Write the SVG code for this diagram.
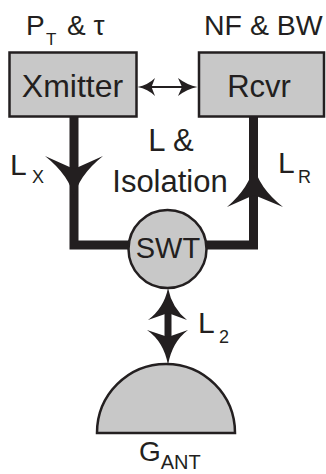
<svg xmlns="http://www.w3.org/2000/svg" width="326" height="474" viewBox="0 0 326 474">
<style>
.box{fill:#c8c8c8;stroke:#231f20;stroke-width:2.5}
.t{font-family:"Liberation Sans",Arial,sans-serif;fill:#231f20}
.wire{fill:none;stroke:#231f20;stroke-width:9;stroke-linejoin:miter}
.head{fill:#231f20;stroke:none}
</style>
<rect width="326" height="474" fill="#fff"/>
<g id="connectors">
  <path class="wire" d="M74,117 V245 H129"/>
  <path class="wire" d="M253.5,117 V245 H206"/>
  <path class="head" d="M74,198 Q78,176 103,156 L74,169 L45,156 Q70,176 74,198 Z"/>
  <path class="head" d="M254,165 Q258,187 283,207 L254,195 L227,207 Q250,187 254,165 Z"/>
  <line x1="150" y1="87" x2="184" y2="87" stroke="#231f20" stroke-width="2.2"/>
  <path class="head" d="M137.5,87 Q148,85 155,78 L151.5,87 L155,96 Q148,89 137.5,87 Z"/>
  <path class="head" d="M197.5,87 Q187,85 178,78 L182,87 L178,96 Q187,89 197.5,87 Z"/>
  <line x1="168" y1="310" x2="168" y2="340" stroke="#231f20" stroke-width="7"/>
  <path class="head" d="M168,288 Q172,308 187,320 L168,313 L148,320 Q164,308 168,288 Z"/>
  <path class="head" d="M168,365 Q172,342 188,330 L168,337 L147,330 Q164,342 168,365 Z"/>
</g>
<g id="xmitter">
  <rect class="box" x="9.5" y="52.5" width="127" height="64"/>
  <text class="t" x="72.5" y="97" font-size="32" text-anchor="middle">Xmitter</text>
  <text class="t" x="26" y="35" font-size="28">P<tspan font-size="17" x="46" y="45">T</tspan><tspan x="67" y="35">&amp; τ</tspan></text>
</g>
<g id="rcvr">
  <rect class="box" x="199" y="52.5" width="125" height="64"/>
  <text class="t" x="259" y="97" font-size="31" text-anchor="middle">Rcvr</text>
  <text class="t" x="204" y="35" font-size="28.5">NF &amp; BW</text>
</g>
<g id="swt">
  <circle class="box" cx="167.5" cy="249" r="39"/>
  <text class="t" x="168" y="258" font-size="29" text-anchor="middle">SWT</text>
</g>
<g id="antenna">
  <path class="box" d="M97,433 A69,69 0 0 1 235,433 Z"/>
  <text class="t" x="139" y="461" font-size="28">G<tspan font-size="20" y="469">ANT</tspan></text>
</g>
<g id="labels">
  <text class="t" x="171" y="151" font-size="31" text-anchor="middle">L &amp;</text>
  <text class="t" x="170" y="192" font-size="31" text-anchor="middle">Isolation</text>
  <text class="t" x="10" y="175" font-size="30">L<tspan font-size="18" x="32" y="183">X</tspan></text>
  <text class="t" x="278" y="173" font-size="30">L<tspan font-size="18" x="298" y="183">R</tspan></text>
  <text class="t" x="198" y="333" font-size="30">L<tspan font-size="18" x="219" y="343">2</tspan></text>
</g>
</svg>
